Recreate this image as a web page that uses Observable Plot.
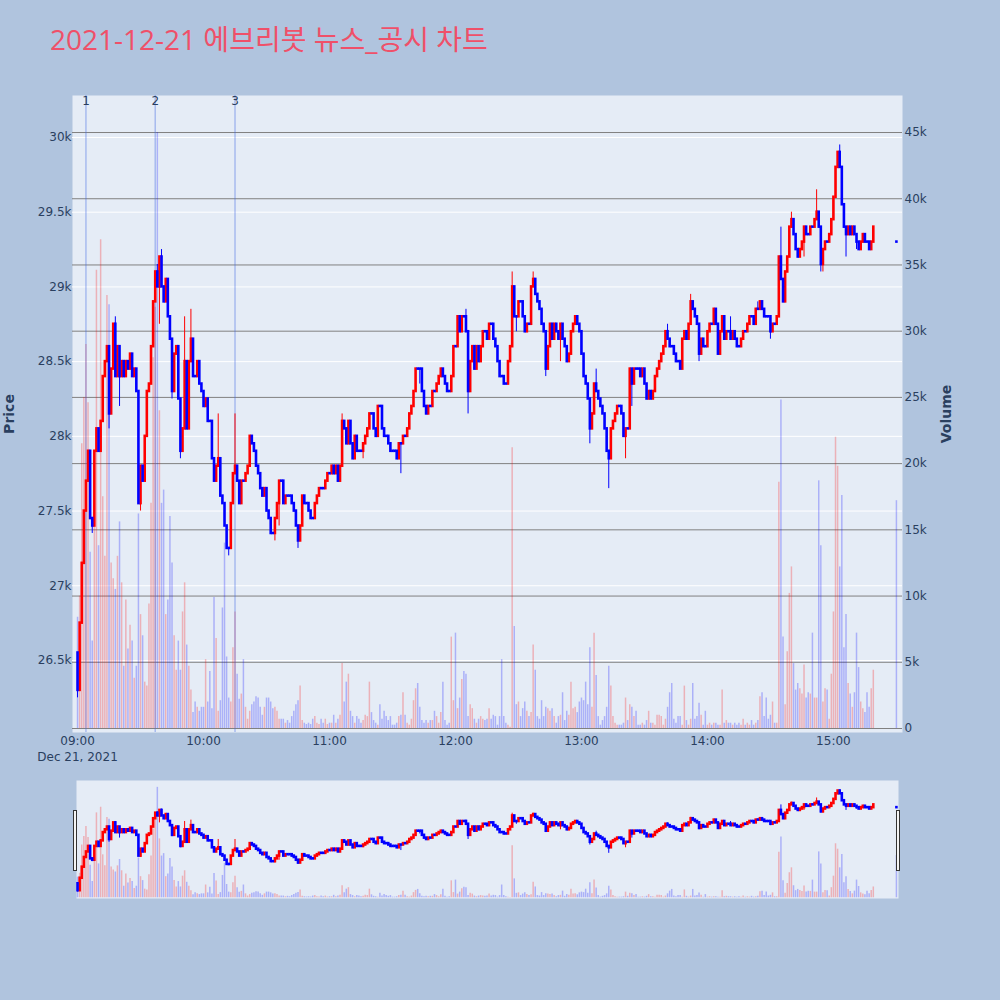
<!DOCTYPE html>
<html><head><meta charset="utf-8">
<script src="https://cdn.jsdelivr.net/npm/d3@7"></script>
<script src="https://cdn.jsdelivr.net/npm/@observablehq/plot@0.6"></script>
<style>
body{margin:0;background:#B0C4DE;}
#root{position:relative;width:1000px;height:1000px;background:#B0C4DE;overflow:hidden;font-family:'DejaVu Sans',sans-serif;}
.layer{position:absolute;left:0;}
.layer svg{display:block;}
#title{position:absolute;left:50px;top:25px;font-family:'Open Sans','Noto Sans CJK KR',sans-serif;font-size:28px;color:#EF5069;white-space:nowrap;line-height:1;}
.axt{position:absolute;font-family:'DejaVu Sans',sans-serif;font-weight:bold;font-size:14px;color:#2a3f5f;transform:translate(-50%,-50%) rotate(-90deg);white-space:nowrap;}
.handle{position:absolute;width:2px;height:59px;background:#f4f4f4;border:1px solid #333;}
</style></head><body>
<div id="root">
  <div id="title">2021-12-21 에브리봇 뉴스_공시 차트</div>
  <div class="layer" id="m1" style="top:0"></div>
  <div class="layer" id="m2" style="top:0"></div>
  <div class="layer" id="m3" style="top:0"></div>
  <div class="layer" id="s1" style="top:780px"></div>
  <div class="layer" id="s2" style="top:780px"></div>
  <div class="layer" id="s3" style="top:780px"></div>
  <div class="axt" style="left:9px;top:414px">Price</div>
  <div class="axt" style="left:946px;top:414px">Volume</div>
  <div class="handle" style="left:73px;top:810px"></div>
  <div class="handle" style="left:896px;top:810px"></div>
</div>
<script>
// ---- data (minute candles from 09:00) ----
const day = "2021-12-21";
const firstOpen = 26550;
const closes = [
26300,26750,27150,27500,27700,27900,27450,27400,27900,28050,27900,28100,28400,28500,28600,28150,28450,28750,28400,28600,
28400,28500,28400,28500,28450,28550,28400,28450,28300,27550,27800,27700,28000,28300,28350,28600,28900,29100,29000,29200,
29000,28900,29050,28800,28650,28300,28550,28600,28250,27900,28050,28500,28050,28500,28650,28400,28400,28500,28350,28300,
28200,28250,28100,28100,27850,27700,27800,27850,27600,27550,27400,27250,27250,27550,27750,27800,27700,27550,27700,27700,
27750,27800,28000,27950,27900,27800,27750,27650,27600,27650,27500,27450,27350,27350,27450,27550,27700,27700,27550,27600,
27600,27600,27550,27500,27400,27300,27400,27600,27550,27550,27500,27450,27450,27550,27600,27650,27650,27650,27700,27750,
27750,27800,27750,27800,27700,27800,28100,28050,27950,28100,27950,27850,28000,27900,27900,27900,27950,28000,28050,28150,
28150,28050,28000,28200,28200,28050,28000,28000,27950,27900,27900,27900,27850,27950,27950,28000,28000,28050,28150,28200,
28300,28450,28450,28450,28300,28200,28150,28200,28200,28300,28300,28350,28400,28450,28400,28350,28300,28300,28400,28600,
28600,28800,28700,28800,28800,28700,28300,28500,28600,28450,28600,28500,28600,28700,28700,28650,28750,28750,28650,28600,
28500,28400,28400,28350,28350,28500,28600,29000,28800,28800,28900,28900,28800,28700,28750,28750,29000,29050,28950,28900,
28850,28750,28700,28450,28600,28750,28650,28750,28700,28650,28750,28650,28600,28500,28550,28700,28750,28800,28750,28700,
28550,28400,28350,28250,28050,28150,28350,28300,28250,28200,28150,28050,27900,27850,28050,28100,28150,28200,28200,28150,
28000,28050,28050,28450,28350,28450,28450,28450,28400,28450,28350,28250,28300,28250,28300,28400,28450,28500,28550,28600,
28700,28650,28600,28600,28550,28500,28500,28450,28650,28700,28650,28750,28900,28850,28800,28750,28550,28650,28600,28600,
28700,28750,28750,28850,28750,28550,28700,28800,28650,28700,28700,28650,28700,28650,28600,28600,28650,28700,28700,28750,
28800,28800,28750,28850,28850,28900,28850,28800,28800,28800,28700,28750,28750,28800,29200,29050,28900,29100,29200,29400,
29450,29350,29250,29200,29250,29300,29400,29350,29350,29400,29400,29450,29500,29400,29150,29250,29300,29300,29350,29450,
29600,29800,29900,29800,29550,29400,29350,29400,29350,29400,29350,29300,29250,29300,29350,29300,29300,29250,29300,29400];
const volumes = [
8400,10000,21500,25000,29000,24600,13300,6600,17000,34600,13800,36900,17500,13000,32700,32000,12500,11300,10500,13000,
15600,11000,4700,9700,6000,7800,6600,3800,4700,16200,8600,7000,3500,3200,9400,17000,28000,31800,45000,24000,
17000,18000,8600,9700,16000,12500,7000,4400,6600,4400,8800,11000,6300,4700,2900,1200,2000,1600,1300,1600,
1600,5200,2000,4300,1500,9900,6800,1300,2100,9100,14000,5400,2300,2000,6100,8800,4100,2200,2600,5200,
1600,700,1300,1800,2000,2400,2300,1600,1000,1600,2300,2300,2000,1500,1600,1300,700,700,700,400,
600,400,900,1300,1800,2100,3200,600,400,300,400,300,700,900,400,300,700,400,700,300,
400,400,1000,400,700,1000,4900,2000,3500,4100,1300,900,400,900,700,400,600,1000,900,3500,
1200,600,400,250,1800,700,1300,900,600,900,250,250,400,900,1000,2700,1000,400,250,700,
2100,3000,3400,1600,600,400,600,400,600,600,1300,900,400,1200,3500,600,250,400,6900,2100,
7200,1500,2300,3700,4300,4100,900,1800,1500,700,400,700,900,700,600,700,1500,700,1000,900,
250,900,5200,900,400,250,100,21200,7700,1800,2000,900,1500,2000,1300,900,1200,6300,4400,900,
700,2100,900,1600,1500,1300,1500,900,400,900,1000,2700,600,1300,1000,3500,1500,1600,1200,2000,
2300,2100,3500,1800,6100,1600,7200,4000,900,250,600,900,1600,4700,3200,900,400,250,250,250,
400,2300,600,1800,1600,900,1300,250,250,400,250,600,1300,400,400,250,1000,1000,900,250,
700,1600,2700,3400,700,400,900,900,250,3200,600,250,700,3400,700,900,1900,1000,250,1300,
250,400,250,400,400,250,250,2900,400,600,400,400,250,400,250,400,250,700,250,400,
250,600,250,400,600,2400,2700,900,2300,700,1000,2000,400,400,18600,24800,6900,1800,5800,10200,
12200,4900,2900,3400,3000,2600,4800,2300,2700,2600,7200,2300,2300,18700,13800,2000,3000,2900,700,4100,
8800,22000,19800,12200,17600,6100,8600,3400,2600,1600,2700,7200,4600,2000,1500,1200,2700,1600,3000,4400];
// explicit wick extremes: [minute index, price]
const highWicks = [[18,28800],[38,29150],[40,29250],[51,28800],[54,28850],[67,28150],[75,28150],[126,28150],
  [185,28850],[207,29100],[217,29100],[247,28450],[281,28750],[292,28950],[311,28800],[324,28900],
  [335,29400],[340,29500],[352,29650],[363,29950]];
const lowWicks = [[0,26250],[7,27350],[15,28050],[20,28200],[30,27500],[39,28750],[45,28250],[49,27850],
  [72,27200],[94,27300],[96,27400],[105,27250],[136,27850],[154,27750],[163,28350],[186,28150],[209,28700],
  [223,28400],[230,28500],[244,27950],[253,27650],[261,27850],[264,28200],[296,28500],[330,28650],
  [346,29200],[354,29100],[355,29100],[366,29200],[371,29250]];
const auction = {time: "15:30", price: 29300, volume: 17200};
const newsTimes = ["09:04","09:37","10:15"];
const newsLabels = ["1","2","3"];
const priceTicks = [26500,27000,27500,28000,28500,29000,29500,30000];
const volumeTicks = [0,5000,10000,15000,20000,25000,30000,35000,40000,45000];
const hourTicks = ["09:00","10:00","11:00","12:00","13:00","14:00","15:00"];
const dateLabel = "Dec 21, 2021";
const xRange = ["08:57:36","15:32:54"];
const priceDomain = [26018, 30281];
const volumeDomain = [-302, 47795];

// ---- build table ----
const T = s => new Date(`${day}T${s.length === 5 ? s + ":00" : s}Z`);
const rows = closes.map((c, i) => {
  const o = i === 0 ? firstOpen : closes[i - 1];
  return {time: new Date(Date.UTC(2021, 11, 21, 9, i)), open: o, close: c,
          high: Math.max(o, c), low: Math.min(o, c), volume: volumes[i]};
});
for (const [i, h] of highWicks) rows[i].high = h;
for (const [i, l] of lowWicks) rows[i].low = l;
rows.push({time: T(auction.time), open: auction.price, close: auction.price,
           high: auction.price, low: auction.price, volume: auction.volume});
rows.forEach(r => r.up = r.close > r.open);
const upRows = rows.filter(r => r.up), downRows = rows.filter(r => !r.up);
const xDomain = xRange.map(T);
const news = newsTimes.map((t, i) => ({time: T(t), label: newsLabels[i]}));

const RED = "#FF0000", BLUE = "#0000FF";
const style = {fontFamily: "'DejaVu Sans', sans-serif", fontSize: "12px", color: "#2a3f5f", background: "transparent", overflow: "visible"};
const fmtS = d3.format("~s");
const fmtT = d3.utcFormat("%H:%M");

function frame(h, mt, mb, y, x, marks) {
  return Plot.plot({width: 1000, height: h, marginLeft: 72, marginRight: 98, marginTop: mt, marginBottom: mb,
    style, x: Object.assign({type: "utc", domain: xDomain, label: null}, x), y: Object.assign({label: null}, y), marks});
}
function candleMarks() {
  return [
    Plot.ruleX(upRows, {x: "time", y1: "low", y2: "high", stroke: RED, strokeWidth: 1}),
    Plot.ruleX(downRows, {x: "time", y1: "low", y2: "high", stroke: BLUE, strokeWidth: 1}),
    Plot.ruleX(upRows, {x: "time", y1: "open", y2: "close", stroke: RED, strokeWidth: 2.6, strokeLinecap: "square"}),
    Plot.ruleX(downRows, {x: "time", y1: "open", y2: "close", stroke: BLUE, strokeWidth: 2.6, strokeLinecap: "square"})
  ];
}
function volumeMarks() {
  return [
    Plot.ruleX(upRows, {x: "time", y1: 0, y2: "volume", stroke: RED, strokeOpacity: 0.25, strokeWidth: 1.5}),
    Plot.ruleX(downRows, {x: "time", y1: 0, y2: "volume", stroke: BLUE, strokeOpacity: 0.25, strokeWidth: 1.5})
  ];
}

// ---- main chart: three stacked layers ----
const H = 770, MT = 95, MB = 38;
document.getElementById("m1").append(frame(H, MT, MB,
  {domain: priceDomain, ticks: priceTicks, tickFormat: fmtS, tickSize: 0, tickPadding: 1},
  {ticks: hourTicks.map(T), tickFormat: fmtT, tickSize: 0, tickPadding: 4},
  [
    Plot.frame({fill: "#E5ECF6", stroke: "none"}),
    Plot.ruleY(priceTicks, {stroke: "white", strokeWidth: 1}),
    Plot.text([T(hourTicks[0])], {x: d => d, frameAnchor: "bottom", dy: 28, text: () => dateLabel, fill: "#2a3f5f"})
  ]));
document.getElementById("m2").append(frame(H, MT, MB,
  {domain: volumeDomain, axis: "right", ticks: volumeTicks, tickFormat: fmtS, tickSize: 0, tickPadding: 2},
  {axis: null},
  [
    Plot.ruleY(volumeTicks, {stroke: "#808080", strokeWidth: 1}),
    ...volumeMarks()
  ]));
document.getElementById("m3").append(frame(H, MT, MB,
  {domain: priceDomain, axis: null},
  {axis: null},
  [
    Plot.ruleX(news, {x: "time", stroke: "royalblue", strokeOpacity: 0.38, strokeWidth: 1.5}),
    Plot.text(news, {x: "time", text: "label", frameAnchor: "top", dy: 1, fill: "#2a3f5f"}),
    ...candleMarks()
  ]));

// ---- range slider ----
const SH = 118;
document.getElementById("s1").append(frame(SH, 0, 0, {domain: priceDomain, axis: null}, {axis: null},
  [Plot.frame({fill: "#E5ECF6", stroke: "none", insetLeft: 4, insetRight: 4})]));
document.getElementById("s2").append(frame(SH, 0, 0, {domain: volumeDomain, axis: null}, {axis: null}, volumeMarks()));
document.getElementById("s3").append(frame(SH, 0, 0, {domain: priceDomain, axis: null}, {axis: null}, candleMarks()));
</script>
</body></html>
